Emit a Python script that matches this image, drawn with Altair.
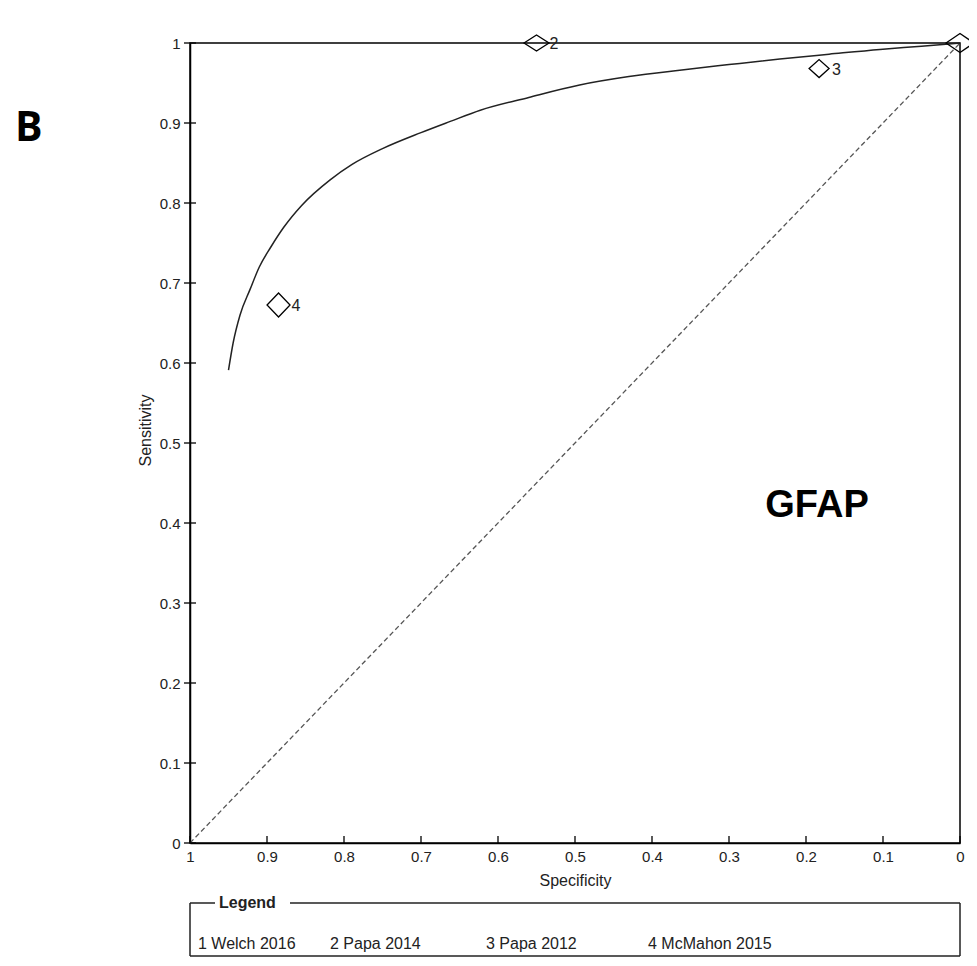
import altair as alt
import pandas as pd

# ---- data ----
study_ids = ["1", "2", "3", "4"]
study_names = ["Welch 2016", "Papa 2014", "Papa 2012", "McMahon 2015"]
study_spec = [0.0, 0.55, 0.183, 0.885]
study_sens = [1.0, 1.0, 0.968, 0.6725]

curve_spec = [0.950, 0.944, 0.935, 0.922, 0.910, 0.895, 0.878, 0.855, 0.818,
              0.790, 0.750, 0.700, 0.662, 0.623, 0.560, 0.494, 0.430, 0.364,
              0.300, 0.234, 0.170, 0.104, 0.050, 0.0]
curve_sens = [0.591, 0.625, 0.660, 0.692, 0.720, 0.745, 0.770, 0.797, 0.829,
              0.848, 0.868, 0.888, 0.902, 0.916, 0.932, 0.9475, 0.958, 0.966,
              0.973, 0.980, 0.986, 0.992, 0.996, 1.0]

diag_spec = [1.0, 0.0]
diag_sens = [0.0, 1.0]

tick_vals = [0, 0.1, 0.2, 0.3, 0.4, 0.5, 0.6, 0.7, 0.8, 0.9, 1]

# diamond outlines (width/height differ per study)
diamond_paths = [
    "M-1.4,0L0,-0.95L1.4,0L0,0.95Z",
    "M-1.25,0L0,-0.8L1.25,0L0,0.8Z",
    "M-1,0L0,-0.9L1,0L0,0.9Z",
    "M-1.15,0L0,-1.2L1.15,0L0,1.2Z",
]

FONT = "Liberation Sans"
W, H = 770, 800

studies = pd.DataFrame({"id": study_ids, "name": study_names,
                        "spec": study_spec, "sens": study_sens})
curve = pd.DataFrame({"spec": curve_spec, "sens": curve_sens})
diag = pd.DataFrame({"spec": diag_spec, "sens": diag_sens})
xt = pd.DataFrame({"spec": tick_vals})
yt = pd.DataFrame({"sens": tick_vals})


def X(field="spec"):
    return alt.X(f"{field}:Q",
                 scale=alt.Scale(domain=[0, 1], reverse=True, nice=False, zero=False),
                 axis=alt.Axis(values=tick_vals, format=".1~f", title="Specificity",
                               ticks=False, tickSize=0, grid=False, labelFlush=False,
                               labelOverlap=False, labelPadding=6, titleY=42,
                               titleBaseline="alphabetic"))


def Y(field="sens"):
    return alt.Y(f"{field}:Q",
                 scale=alt.Scale(domain=[0, 1], nice=False, zero=False),
                 axis=alt.Axis(values=tick_vals, format=".1~f", title="Sensitivity",
                               ticks=False, tickSize=0, grid=False, labelFlush=False,
                               labelOverlap=False, labelPadding=10, titleX=-40,
                               titleY=387, titleBaseline="alphabetic"))


diag_layer = alt.Chart(diag).mark_line(color="#555555", strokeWidth=1.3,
                                       strokeDash=[5, 3]).encode(x=X(), y=Y())
curve_layer = alt.Chart(curve).mark_line(color="#222222", strokeWidth=1.5,
                                         interpolate="monotone").encode(x=X(), y=Y())

xtick_layer = alt.Chart(xt).mark_rule(color="black", strokeWidth=1.3).encode(
    x=X(), y=alt.value(H), y2=alt.value(H - 7))
ytick_layer = alt.Chart(yt).mark_rule(color="black", strokeWidth=1.3).encode(
    y=Y(), x=alt.value(-6), x2=alt.value(6))

pts = alt.Chart(studies).mark_point(filled=False, stroke="black", strokeWidth=1.3,
                                    size=400, opacity=1).encode(
    x=X(), y=Y(),
    shape=alt.Shape("id:N", scale=alt.Scale(domain=study_ids, range=diamond_paths),
                    legend=None))

# label of study 1 falls beyond the image edge in the reference
lbls = alt.Chart(studies).transform_filter("datum.spec > 0").mark_text(
    align="left", baseline="middle", dx=13, dy=1,
    font=FONT, fontSize=16, color="#222222").encode(x=X(), y=Y(), text="id:N")


def txt(t, x, y, size=16, weight="normal", font=FONT, align="left", color="#222222"):
    return alt.Chart(pd.DataFrame({"t": [t]})).mark_text(
        align=align, baseline="alphabetic", font=font, fontSize=size,
        fontWeight=weight, color=color).encode(
        text="t:N", x=alt.value(x), y=alt.value(y))


def hrule(x1, x2, y):
    return alt.Chart(pd.DataFrame({"a": [0]})).mark_rule(
        color="#222222", strokeWidth=1.5).encode(
        x=alt.value(x1), x2=alt.value(x2), y=alt.value(y))


def vrule(x, y1, y2):
    return alt.Chart(pd.DataFrame({"a": [0]})).mark_rule(
        color="#222222", strokeWidth=1.5).encode(
        x=alt.value(x), y=alt.value(y1), y2=alt.value(y2))


# legend box (layout offsets relative to plot origin)
box_top, box_bot = 860, 913
legend_layers = [
    hrule(0, 25, box_top), hrule(100, W, box_top),
    vrule(0, box_top, box_bot), vrule(W, box_top, box_bot),
    hrule(0, W, box_bot),
    txt("Legend", 29, 865, size=16, weight="bold"),
]
entry_x = [8, 140, 296, 458]
for sid, nm, ex in zip(study_ids, study_names, entry_x):
    legend_layers.append(txt(f"{sid} {nm}", ex, 906, size=16))

annot = [
    txt("B", -175, 98, size=41, weight="bold", font="Open Sans", color="black"),
    txt("GFAP", 627, 474, size=38, weight="bold", align="center", color="black"),
]

chart = alt.layer(
    diag_layer, curve_layer, xtick_layer, ytick_layer, pts, lbls,
    *legend_layers, *annot
).properties(
    width=W, height=H,
    padding={"left": 182, "top": 35, "right": 9, "bottom": 115},
    autosize=alt.AutoSizeParams(type="none"),
    background="white",
).configure_view(
    stroke="black", strokeWidth=1.5
).configure_axis(
    labelFont=FONT, labelFontSize=15, labelColor="#222222",
    titleFont=FONT, titleFontSize=16, titleFontWeight="normal", titleColor="#222222",
    domainColor="black", domainWidth=1.5,
)

chart.save("out.html", embed_options={"renderer": "svg", "actions": False})
